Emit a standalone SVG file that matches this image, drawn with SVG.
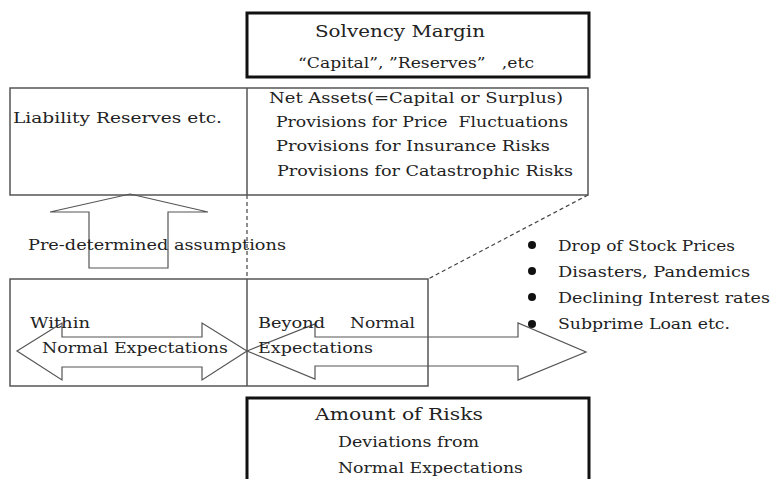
<svg xmlns="http://www.w3.org/2000/svg" width="772" height="479" viewBox="0 0 772 479">
<style>
.t{font-family:"DejaVu Serif","Liberation Serif",serif;fill:#222;white-space:pre}
.s13{font-size:15px}
.s14{font-size:15px}
.s15{font-size:17px}
.box{fill:none;stroke:#555;stroke-width:1.5}
.thick{fill:#fff;stroke:#111;stroke-width:3}
.arr{fill:none;stroke:#555;stroke-width:1.2}
.dash{fill:none;stroke:#444;stroke-width:1.2;stroke-dasharray:4 3}
</style>
<rect width="772" height="479" fill="#fff"/>

<g id="connectors">
  <line class="dash" x1="247" y1="195" x2="247" y2="279"/>
  <line class="dash" x1="588" y1="195" x2="428" y2="279"/>
  <polygon class="arr" points="130,194 208,212 168,212 168,268 89,268 89,212 50,212"/>
  <polygon class="arr" points="17,351 62,323 62,337 202,337 202,323 247,351 202,380 202,367 62,367 62,380"/>
  <polygon class="arr" points="247,351 315,324 315,337 518,337 518,323 586,352 518,380 518,366 315,366 315,379"/>
</g>

<g id="solvency-margin">
  <rect class="thick" x="247" y="13" width="342" height="64"/>
  <text class="t s15" x="315" y="37" textLength="170" lengthAdjust="spacingAndGlyphs">Solvency Margin</text>
  <text class="t s14" x="298" y="68" textLength="236" lengthAdjust="spacingAndGlyphs">“Capital”, ”Reserves”   ,etc</text>
</g>

<g id="balance-sheet">
  <rect class="box" x="10" y="88" width="578" height="107"/>
  <line class="box" x1="247" y1="88" x2="247" y2="195"/>
  <text class="t s13" x="13" y="123" textLength="209" lengthAdjust="spacingAndGlyphs">Liability Reserves etc.</text>
  <text class="t s13" x="269" y="103" textLength="294" lengthAdjust="spacingAndGlyphs">Net Assets(=Capital or Surplus)</text>
  <text class="t s13" x="276" y="127" textLength="292" lengthAdjust="spacingAndGlyphs">Provisions for Price  Fluctuations</text>
  <text class="t s13" x="276" y="151" textLength="274" lengthAdjust="spacingAndGlyphs">Provisions for Insurance Risks</text>
  <text class="t s13" x="277" y="176" textLength="296" lengthAdjust="spacingAndGlyphs">Provisions for Catastrophic Risks</text>
</g>

<g id="assumptions">
  <text class="t s13" x="28" y="250" textLength="258" lengthAdjust="spacingAndGlyphs">Pre-determined assumptions</text>
</g>

<g id="expectations">
  <rect class="box" x="10" y="279" width="418" height="107"/>
  <line class="box" x1="247" y1="279" x2="247" y2="386"/>
  <text class="t s13" x="30" y="328" textLength="60" lengthAdjust="spacingAndGlyphs">Within</text>
  <text class="t s13" x="42" y="353" textLength="186" lengthAdjust="spacingAndGlyphs">Normal Expectations</text>
  <text class="t s13" x="258" y="328" textLength="67" lengthAdjust="spacingAndGlyphs">Beyond</text>
  <text class="t s13" x="350" y="328" textLength="65" lengthAdjust="spacingAndGlyphs">Normal</text>
  <text class="t s13" x="258" y="353" textLength="115" lengthAdjust="spacingAndGlyphs">Expectations</text>
</g>

<g id="risk-factors">
  <circle cx="532" cy="245" r="4" fill="#111"/>
  <circle cx="532" cy="271" r="4" fill="#111"/>
  <circle cx="532" cy="297" r="4" fill="#111"/>
  <circle cx="532" cy="324" r="4" fill="#111"/>
  <text class="t s13" x="558" y="251" textLength="177" lengthAdjust="spacingAndGlyphs">Drop of Stock Prices</text>
  <text class="t s13" x="558" y="277" textLength="192" lengthAdjust="spacingAndGlyphs">Disasters, Pandemics</text>
  <text class="t s13" x="558" y="303" textLength="212" lengthAdjust="spacingAndGlyphs">Declining Interest rates</text>
  <text class="t s13" x="558" y="329" textLength="172" lengthAdjust="spacingAndGlyphs">Subprime Loan etc.</text>
</g>

<g id="amount-of-risks">
  <rect class="thick" x="247" y="398" width="342" height="100"/>
  <text class="t s15" x="315" y="420" textLength="168" lengthAdjust="spacingAndGlyphs">Amount of Risks</text>
  <text class="t s14" x="338" y="447" textLength="141" lengthAdjust="spacingAndGlyphs">Deviations from</text>
  <text class="t s14" x="338" y="473" textLength="185" lengthAdjust="spacingAndGlyphs">Normal Expectations</text>
</g>
</svg>
